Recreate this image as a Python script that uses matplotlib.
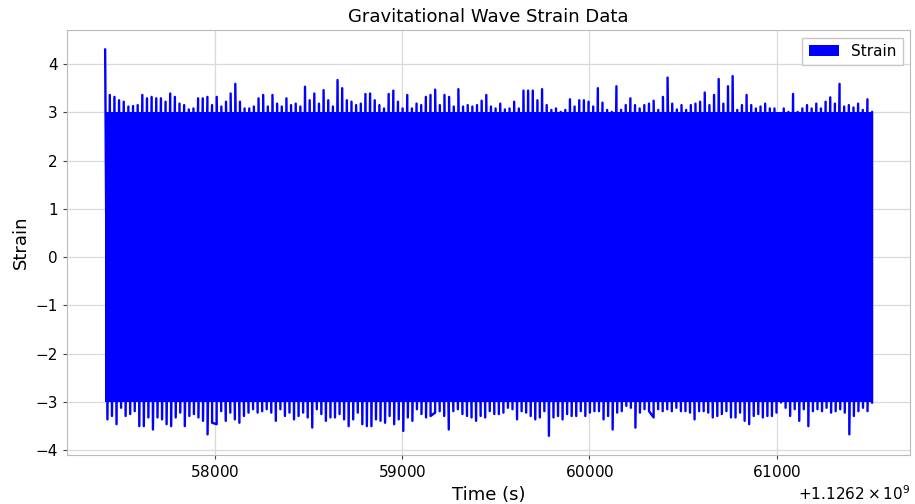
import matplotlib
matplotlib.use("Agg")
import matplotlib.pyplot as plt
from matplotlib.patches import Patch
import numpy as np

# GPS start / end of the segment (s)
t_start = 1126257414
t_end = 1126261510

# level of the dense body of the signal
body_level = 3.0

# positive excursions read along the top edge, left to right
upper_peaks = [
    4.30, 3.36, 3.32, 3.25, 3.22, 3.12, 3.13, 3.15, 3.36, 3.29, 3.32, 3.29, 3.29,
    3.22, 3.39, 3.32, 3.18, 3.15, 3.06, 3.08, 3.29, 3.29, 3.32, 3.15, 3.32, 3.12,
    3.22, 3.39, 3.59, 3.22, 3.08, 3.08, 3.12, 3.29, 3.36, 3.12, 3.36, 3.18, 3.12,
    3.29, 3.15, 3.18, 3.12, 3.53, 3.25, 3.39, 3.18, 3.46, 3.25, 3.12, 3.67, 3.50,
    3.25,
    3.22, 3.15, 3.18, 3.38, 3.39, 3.25, 3.15, 3.08, 3.38, 3.45, 3.22, 3.08, 3.36,
    3.08, 3.18, 3.15, 3.32, 3.36, 3.47, 3.15, 3.36, 3.32, 3.12, 3.48, 3.12, 3.15,
    3.12, 3.15, 3.24, 3.36, 3.12, 3.08, 3.18, 3.06, 3.08, 3.22, 3.08, 3.45, 3.45,
    3.45, 3.25, 3.48, 3.15, 3.05, 3.08, 3.01, 3.05, 3.27, 3.12, 3.25, 3.25, 3.22,
    3.12, 3.50, 3.20,
    3.05, 3.01, 3.54, 3.05, 3.15, 3.29, 3.15, 3.08, 3.15, 3.18, 3.24, 3.05, 3.32,
    3.72, 3.18, 3.06, 3.15, 3.05, 3.15, 3.18, 3.22, 3.41, 3.15, 3.36, 3.69, 3.18,
    3.54, 3.75, 3.05, 3.15, 3.36, 3.15, 3.08, 3.12, 3.18, 3.08, 3.08, 2.98, 3.08,
    3.01, 3.38, 3.01, 3.08, 3.15, 3.08, 3.18, 3.08, 3.22, 3.31, 3.18, 3.59, 3.12,
    3.15, 3.10, 3.18, 3.05, 3.27, 3.01,
]

# negative excursions read along the bottom edge, left to right
lower_peaks = [
    -3.36, -3.29, -3.46, -3.12, -3.29, -3.25, -3.19, -3.50, -3.50, -3.32, -3.57,
    -3.32, -3.36, -3.46, -3.50, -3.32, -3.22, -3.50, -3.29, -3.25, -3.32, -3.39,
    -3.67, -3.43, -3.46, -3.19, -3.39, -3.22, -3.36, -3.43, -3.29, -3.22, -3.15,
    -3.22, -3.19, -3.15, -3.22, -3.39, -3.15, -3.29, -3.22, -3.36, -3.29, -3.22,
    -3.32, -3.53, -3.15, -3.25, -3.39, -3.32, -3.32, -3.25, -3.36, -3.50, -3.36,
    -3.22, -3.46, -3.50,
    -3.50, -3.36, -3.39, -3.43, -3.29, -3.46, -3.36, -3.60, -3.32, -3.39, -3.15,
    -3.25, -3.32, -3.29, -3.22, -3.19, -3.29, -3.57, -3.19, -3.15, -3.25, -3.29,
    -3.32, -3.39, -3.29, -3.32, -3.19, -3.25, -3.25, -3.22, -3.12, -3.15, -3.36,
    -3.19, -3.22, -3.29, -3.36, -3.32, -3.19, -3.70, -3.32, -3.29, -3.36, -3.25,
    -3.29, -3.29, -3.19, -3.29, -3.22, -3.19, -3.19, -3.36, -3.29, -3.57, -3.22,
    -3.19,
    -3.08, -3.12, -3.53, -3.22, -3.15, -3.19, -3.32, -3.15, -3.19, -3.15, -3.19,
    -3.12, -3.19, -3.19, -3.22, -3.36, -3.19, -3.19, -3.22, -3.32, -3.29, -3.25,
    -3.19, -3.32, -3.32, -3.22, -3.39, -3.46, -3.29, -3.25, -3.32, -3.29, -3.29,
    -3.22, -3.01, -3.12, -3.29, -3.15, -3.39, -3.15, -3.50, -3.19, -3.15, -3.19,
    -3.12, -3.22, -3.19, -3.15, -3.22, -3.67, -3.29, -3.19, -3.12, -3.19, -3.01,
]


def build_signal():
    """merge the top and bottom excursions into one time ordered series"""
    t_up = np.linspace(t_start, t_end, len(upper_peaks))
    step = (t_end - t_start) / (len(lower_peaks) - 1)
    t_lo = np.linspace(t_start + step / 2, t_end, len(lower_peaks))
    t = np.concatenate([t_up, t_lo])
    y = np.concatenate([upper_peaks, lower_peaks])
    order = np.argsort(t, kind="stable")
    return t[order], y[order]


def main():
    t, strain = build_signal()

    fig = plt.figure(figsize=(9.15, 5.04), dpi=100)
    ax = fig.add_axes([0.073, 0.097, 0.922, 0.843])

    ax.fill_between(t, -body_level, body_level, color="blue", lw=0)
    ax.plot(t, strain, color="blue", lw=1.7)

    ax.set_title("Gravitational Wave Strain Data", fontsize=13)
    ax.set_xlabel("Time (s)", fontsize=13)
    ax.set_ylabel("Strain", fontsize=13)
    ax.tick_params(labelsize=11, length=3, color="#444444")
    ax.set_yticks([-4, -3, -2, -1, 0, 1, 2, 3, 4])
    ax.set_xticks([1126258000, 1126259000, 1126260000, 1126261000])
    fmt = ax.xaxis.get_major_formatter()
    fmt.set_useMathText(True)
    ax.xaxis.get_offset_text().set_fontsize(11)

    ax.grid(True, color="#d9d9d9", lw=0.9)
    ax.set_axisbelow(True)
    for s in ax.spines.values():
        s.set_color("#bbbbbb")

    ax.legend(handles=[Patch(facecolor="blue", label="Strain")],
              loc="upper right", fontsize=11, fancybox=False,
              edgecolor="#bbbbbb")

    fig.savefig("out.png", dpi=100)


if __name__ == "__main__":
    main()
